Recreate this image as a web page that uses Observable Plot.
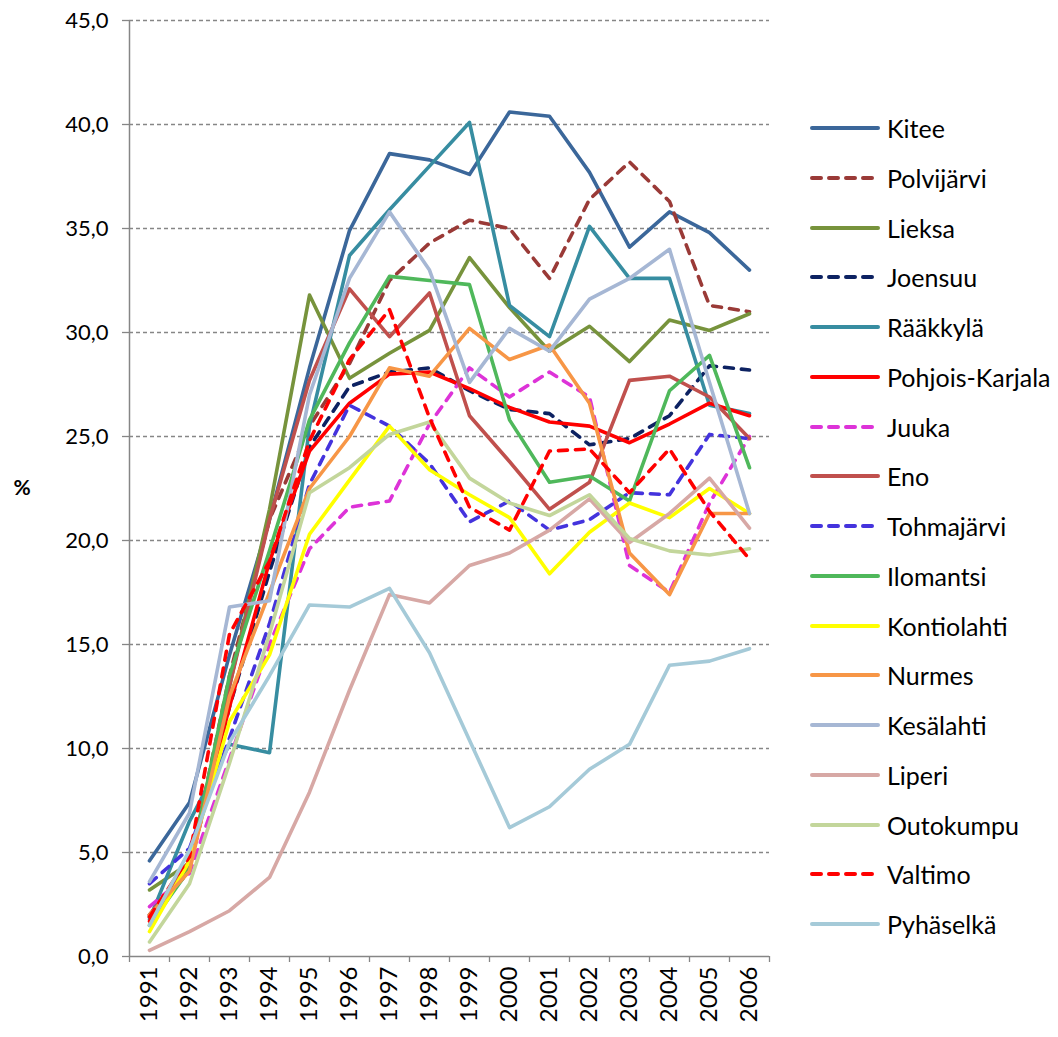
<!DOCTYPE html>
<html><head><meta charset="utf-8">
<script src="https://cdn.jsdelivr.net/npm/d3@7"></script>
<script src="https://cdn.jsdelivr.net/npm/@observablehq/plot@0.6"></script>
<style>
body{margin:0;background:#fff;font-family:Lato,"Open Sans",sans-serif;}
#wrap{position:relative;width:1058px;height:1037px;overflow:hidden;}
#chart{position:absolute;left:0;top:0;}
.item{position:absolute;left:808px;height:30px;display:flex;align-items:center;font-size:25px;color:#000;white-space:nowrap;}
.item svg{display:block;margin-right:4px;}
</style></head><body><div id="wrap"><div id="chart"></div><div id="legend"></div></div>
<script>
const years = [1991,1992,1993,1994,1995,1996,1997,1998,1999,2000,2001,2002,2003,2004,2005,2006];
const yTicks = [0,5,10,15,20,25,30,35,40,45];

const kitee        = [4.6, 7.4, 14.5, 21.0, 28.3, 34.9, 38.6, 38.3, 37.6, 40.6, 40.4, 37.7, 34.1, 35.8, 34.8, 33.0];
const polvijarvi   = [2.0, 4.3, 13.5, 21.0, 25.5, 28.5, 32.5, 34.3, 35.4, 35.0, 32.6, 36.4, 38.2, 36.3, 31.3, 31.0];
const lieksa       = [3.2, 4.5, 13.0, 21.5, 31.8, 27.8, 29.0, 30.1, 33.6, 31.2, 29.1, 30.3, 28.6, 30.6, 30.1, 30.9];
const joensuu      = [1.9, 4.3, 12.0, 18.5, 24.5, 27.4, 28.1, 28.3, 27.2, 26.3, 26.1, 24.6, 24.9, 26.0, 28.4, 28.2];
const raakkyla     = [1.8, 6.5, 10.2, 9.8, 25.5, 33.7, 35.9, 38.0, 40.1, 31.3, 29.8, 35.1, 32.6, 32.6, 26.5, 26.1];
const pohjoisKarjala = [1.7, 4.6, 12.0, 19.0, 24.3, 26.6, 28.0, 28.1, 27.3, 26.4, 25.7, 25.5, 24.7, 25.6, 26.6, 26.0];
const juuka        = [2.4, 4.0, 9.5, 15.0, 19.6, 21.6, 21.9, 25.6, 28.3, 26.9, 28.1, 26.9, 18.8, 17.5, 21.8, 25.0];
const eno          = [2.0, 4.4, 13.0, 21.0, 27.7, 32.1, 29.8, 31.9, 26.0, 23.8, 21.5, 22.8, 27.7, 27.9, 26.9, 24.9];
const tohmajarvi   = [3.5, 5.2, 10.5, 16.0, 22.7, 26.5, 25.5, 23.7, 20.9, 21.9, 20.5, 21.0, 22.3, 22.2, 25.1, 24.9];
const ilomantsi    = [1.5, 4.2, 13.5, 19.5, 25.8, 29.5, 32.7, 32.5, 32.3, 25.8, 22.8, 23.1, 21.9, 27.2, 28.9, 23.5];
const kontiolahti  = [1.2, 4.6, 11.3, 14.5, 20.3, 22.9, 25.5, 23.4, 22.2, 21.1, 18.4, 20.4, 21.8, 21.1, 22.5, 21.3];
const nurmes       = [2.0, 4.1, 12.5, 17.5, 22.5, 25.0, 28.3, 27.9, 30.2, 28.7, 29.4, 26.6, 19.4, 17.4, 21.3, 21.3];
const kesalahti    = [3.6, 6.9, 16.8, 17.1, 27.0, 32.6, 35.8, 33.0, 27.6, 30.2, 29.1, 31.6, 32.6, 34.0, 27.6, 21.3];
const liperi       = [0.3, 1.2, 2.2, 3.8, 7.9, 12.8, 17.4, 17.0, 18.8, 19.4, 20.5, 22.0, 19.9, 21.3, 23.0, 20.6];
const outokumpu    = [0.7, 3.5, 9.3, 15.5, 22.3, 23.5, 25.1, 25.7, 23.0, 21.8, 21.2, 22.2, 20.1, 19.5, 19.3, 19.6];
const valtimo      = [1.9, 4.8, 15.5, 19.0, 24.8, 28.7, 31.1, 25.9, 21.6, 20.5, 24.3, 24.4, 22.3, 24.4, 21.4, 19.1];
const pyhaselka    = [1.5, 5.1, 10.3, 13.5, 16.9, 16.8, 17.7, 14.6, 10.4, 6.2, 7.2, 9.0, 10.2, 14.0, 14.2, 14.8];

const seriesNames = ["Kitee","Polvijärvi","Lieksa","Joensuu","Rääkkylä","Pohjois-Karjala","Juuka","Eno","Tohmajärvi","Ilomantsi","Kontiolahti","Nurmes","Kesälahti","Liperi","Outokumpu","Valtimo","Pyhäselkä"];
const seriesValues = [kitee,polvijarvi,lieksa,joensuu,raakkyla,pohjoisKarjala,juuka,eno,tohmajarvi,ilomantsi,kontiolahti,nurmes,kesalahti,liperi,outokumpu,valtimo,pyhaselka];
const seriesColors = ["#3B679A","#9A3A37","#77933C","#0D2262","#378DA1","#FF0000","#DD33D8","#C0504D","#4433DD","#4FB85B","#FFFF00","#F79646","#A6B7D4","#D7A8A5","#C3D69B","#FF0000","#A5CAD8"];
const seriesDashed = [false,true,false,true,false,false,true,false,true,false,false,false,false,false,false,true,false];

const rows = seriesNames.flatMap((name, i) => years.map((year, j) => ({name, year, value: seriesValues[i][j]})));
const fmt = d => d.toFixed(1).replace(".", ",");
const axisGray = "#868686";

const lineMarks = seriesNames.map((name, i) => Plot.line(rows.filter(r => r.name === name), {
  x: "year", y: "value",
  stroke: seriesColors[i], strokeWidth: 3.6,
  strokeDasharray: seriesDashed[i] ? "9,8" : null,
  strokeLinecap: "round", strokeLinejoin: "round"
}));

const chart = Plot.plot({
  width: 790, height: 1037,
  marginLeft: 129, marginRight: 21, marginTop: 20, marginBottom: 81,
  style: {fontFamily: "Lato, 'Open Sans', sans-serif", fontSize: "22px", color: "#000", background: "#fff", overflow: "visible"},
  x: {type: "linear", domain: [1990.5, 2006.5], axis: null},
  y: {domain: [0, 45], axis: null},
  marks: [
    Plot.gridY(yTicks.filter(d => d > 0), {stroke: axisGray, strokeOpacity: 1, strokeWidth: 1.3, strokeDasharray: "4,3"}),
    Plot.axisY(yTicks, {tickSize: 7, tickPadding: 14, tickFormat: fmt, stroke: axisGray, strokeWidth: 1.3, fontSize: 22, label: null}),
    Plot.axisX(d3.range(1990.5, 2007, 1), {tickSize: 6, tickFormat: () => "", stroke: axisGray, strokeWidth: 1.3, label: null}),
    Plot.axisX(years, {tickSize: 0, tickPadding: 10, tickRotate: -90, tickFormat: d => String(d), fontSize: 24, label: null}),
    Plot.ruleY([0], {stroke: axisGray, strokeWidth: 1.5}),
    Plot.ruleX([1990.5], {stroke: axisGray, strokeWidth: 1.5}),
    Plot.text(["%"], {frameAnchor: "left", dx: -116, fontSize: 21, fontWeight: "bold"}),
    ...lineMarks
  ]
});
document.getElementById("chart").appendChild(chart);

const legend = document.getElementById("legend");
seriesNames.forEach((name, i) => {
  const cy = 128 + i * 49.75;
  const item = document.createElement("div");
  item.className = "item";
  item.style.top = (cy - 15) + "px";
  const dash = seriesDashed[i] ? 'stroke-dasharray="9,8"' : "";
  item.innerHTML = `<svg width="75" height="10"><line x1="4" y1="5" x2="70" y2="5" stroke="${seriesColors[i]}" stroke-width="4" stroke-linecap="round" ${dash}/></svg><span>${name}</span>`;
  legend.appendChild(item);
});
</script></body></html>
